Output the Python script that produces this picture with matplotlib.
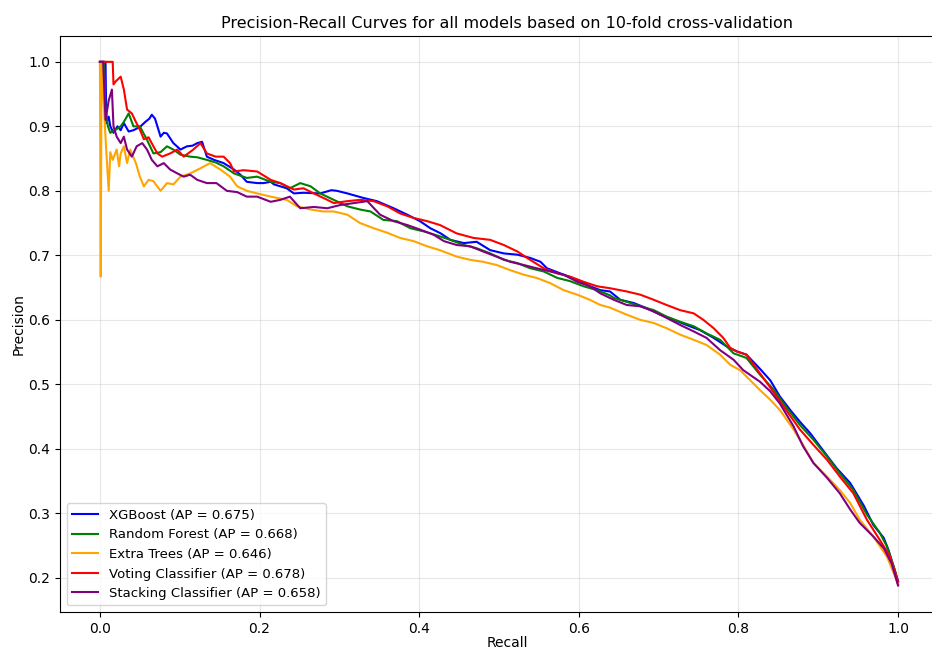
import numpy as np
import matplotlib
matplotlib.use('Agg')
import matplotlib.pyplot as plt

# curves: (recall, precision)
labels = ['XGBoost (AP = 0.675)', 'Random Forest (AP = 0.668)', 'Extra Trees (AP = 0.646)',
          'Voting Classifier (AP = 0.678)', 'Stacking Classifier (AP = 0.658)']
colors = ['blue', 'green', 'orange', 'red', 'purple']

xgb = [(0.0,1.0),(0.007,1.0),(0.008,0.905),(0.011,0.915),(0.013,0.90),(0.017,0.89),(0.022,0.90),
       (0.026,0.894),(0.030,0.905),(0.036,0.892),(0.042,0.894),(0.050,0.899),(0.057,0.907),(0.062,0.912),
       (0.065,0.918),(0.069,0.912),(0.076,0.884),(0.080,0.890),(0.084,0.889),(0.092,0.874),(0.101,0.864),
       (0.109,0.869),(0.116,0.870),(0.122,0.874),(0.128,0.876),(0.134,0.853),(0.143,0.848),(0.155,0.843),
       (0.168,0.833),(0.176,0.825),(0.184,0.814),(0.197,0.812),(0.205,0.812),(0.214,0.814),(0.218,0.810),
       (0.234,0.804),(0.243,0.796),(0.255,0.797),(0.276,0.796),(0.290,0.801),(0.297,0.800),(0.310,0.796),
       (0.330,0.789),(0.347,0.784),(0.368,0.773),(0.385,0.763),(0.401,0.753),(0.414,0.742),(0.427,0.734),
       (0.439,0.724),(0.456,0.719),(0.472,0.721),(0.489,0.708),(0.506,0.703),(0.523,0.701),(0.539,0.696),
       (0.552,0.690),(0.560,0.680),(0.581,0.670),(0.598,0.662),(0.614,0.652),(0.627,0.646),(0.639,0.644),
       (0.652,0.631),(0.669,0.626),(0.685,0.618),(0.702,0.608),(0.719,0.600),(0.735,0.592),(0.752,0.584),
       (0.769,0.572),(0.785,0.559),(0.798,0.551),(0.810,0.546),(0.827,0.524),(0.840,0.506),(0.852,0.481),
       (0.865,0.460),(0.877,0.442),(0.890,0.424),(0.907,0.396),(0.923,0.370),(0.940,0.347),(0.957,0.312),
       (0.969,0.282),(0.982,0.262),(0.988,0.243),(1.0,0.195)]

rf = [(0.0,1.0),(0.005,1.0),(0.007,0.926),(0.010,0.90),(0.013,0.89),(0.020,0.895),(0.026,0.90),
      (0.030,0.907),(0.036,0.92),(0.042,0.90),(0.050,0.90),(0.059,0.879),(0.067,0.858),(0.076,0.860),
      (0.084,0.869),(0.092,0.864),(0.101,0.856),(0.113,0.853),(0.122,0.852),(0.134,0.848),(0.145,0.844),
      (0.155,0.838),(0.168,0.827),(0.184,0.820),(0.197,0.822),(0.214,0.814),(0.226,0.812),(0.238,0.804),
      (0.251,0.812),(0.264,0.807),(0.276,0.796),(0.293,0.786),(0.310,0.776),(0.326,0.771),(0.339,0.768),
      (0.355,0.755),(0.372,0.753),(0.389,0.742),(0.406,0.737),(0.414,0.734),(0.427,0.729),(0.439,0.724),
      (0.456,0.716),(0.472,0.711),(0.489,0.703),(0.506,0.693),(0.523,0.688),(0.539,0.680),(0.556,0.675),
      (0.573,0.665),(0.589,0.660),(0.606,0.652),(0.623,0.646),(0.639,0.638),(0.644,0.634),(0.660,0.628),
      (0.677,0.621),(0.694,0.615),(0.710,0.605),(0.727,0.597),(0.744,0.590),(0.760,0.579),(0.777,0.569),
      (0.794,0.548),(0.810,0.541),(0.827,0.515),(0.844,0.492),(0.861,0.463),(0.877,0.437),(0.894,0.414),
      (0.911,0.388),(0.927,0.362),(0.944,0.336),(0.961,0.298),(0.977,0.270),(0.986,0.249),(0.996,0.212),
      (1.0,0.19)]

et = [(0.0,1.0),(0.001,0.667),(0.002,1.0),(0.005,0.93),(0.008,0.86),(0.011,0.80),(0.013,0.86),
      (0.016,0.848),(0.021,0.864),(0.024,0.838),(0.026,0.858),(0.030,0.869),(0.034,0.843),(0.038,0.864),
      (0.045,0.843),(0.050,0.822),(0.055,0.807),(0.061,0.817),(0.067,0.815),(0.076,0.800),(0.084,0.812),
      (0.092,0.810),(0.101,0.822),(0.113,0.827),(0.126,0.835),(0.138,0.843),(0.151,0.833),(0.163,0.822),
      (0.172,0.807),(0.184,0.800),(0.197,0.796),(0.214,0.791),(0.234,0.786),(0.247,0.776),(0.264,0.771),
      (0.280,0.768),(0.293,0.768),(0.310,0.763),(0.326,0.750),(0.343,0.742),(0.360,0.735),(0.376,0.727),
      (0.393,0.722),(0.410,0.714),(0.426,0.708),(0.447,0.698),(0.464,0.693),(0.480,0.690),(0.497,0.685),
      (0.514,0.677),(0.531,0.670),(0.547,0.665),(0.564,0.657),(0.581,0.646),(0.598,0.639),(0.614,0.631),
      (0.627,0.623),(0.639,0.619),(0.660,0.608),(0.677,0.600),(0.694,0.595),(0.710,0.587),(0.727,0.577),
      (0.744,0.569),(0.760,0.561),(0.777,0.546),(0.790,0.530),(0.802,0.522),(0.815,0.506),(0.827,0.491),
      (0.840,0.476),(0.852,0.460),(0.869,0.430),(0.881,0.406),(0.894,0.378),(0.911,0.357),(0.927,0.336),
      (0.940,0.316),(0.952,0.290),(0.969,0.264),(0.986,0.233),(0.998,0.197),(1.0,0.19)]

vote = [(0.0,1.0),(0.016,1.0),(0.017,0.965),(0.020,0.97),(0.026,0.977),(0.030,0.957),(0.034,0.926),
        (0.040,0.920),(0.045,0.907),(0.050,0.895),(0.055,0.880),(0.061,0.883),(0.067,0.869),(0.072,0.858),
        (0.078,0.853),(0.088,0.858),(0.097,0.864),(0.105,0.853),(0.117,0.864),(0.126,0.874),(0.134,0.858),
        (0.145,0.853),(0.155,0.853),(0.163,0.843),(0.168,0.830),(0.180,0.832),(0.197,0.830),(0.214,0.817),
        (0.226,0.812),(0.243,0.802),(0.255,0.804),(0.268,0.796),(0.285,0.786),(0.293,0.781),(0.310,0.784),
        (0.326,0.786),(0.343,0.784),(0.360,0.776),(0.376,0.765),(0.393,0.758),(0.410,0.753),(0.426,0.747),
        (0.447,0.734),(0.468,0.727),(0.489,0.724),(0.506,0.716),(0.523,0.706),(0.539,0.693),(0.556,0.680),
        (0.573,0.672),(0.589,0.667),(0.606,0.659),(0.623,0.652),(0.639,0.649),(0.660,0.644),(0.677,0.639),
        (0.694,0.631),(0.710,0.623),(0.727,0.615),(0.744,0.610),(0.756,0.600),(0.769,0.587),(0.781,0.572),
        (0.790,0.556),(0.798,0.551),(0.810,0.546),(0.827,0.517),(0.844,0.488),(0.861,0.458),(0.877,0.430),
        (0.894,0.406),(0.911,0.383),(0.927,0.357),(0.944,0.331),(0.961,0.290),(0.977,0.259),(0.990,0.233),
        (1.0,0.194)]

stack = [(0.0,1.0),(0.004,1.0),(0.007,0.91),(0.011,0.94),(0.015,0.957),(0.017,0.90),(0.021,0.884),
         (0.026,0.874),(0.030,0.884),(0.034,0.864),(0.040,0.853),(0.046,0.869),(0.053,0.874),(0.059,0.864),
         (0.065,0.848),(0.072,0.838),(0.080,0.843),(0.088,0.833),(0.097,0.827),(0.105,0.822),(0.113,0.825),
         (0.122,0.817),(0.134,0.812),(0.146,0.812),(0.159,0.800),(0.172,0.798),(0.184,0.791),(0.197,0.791),
         (0.214,0.783),(0.226,0.786),(0.238,0.791),(0.251,0.773),(0.268,0.775),(0.285,0.773),(0.301,0.778),
         (0.318,0.781),(0.335,0.784),(0.351,0.763),(0.368,0.753),(0.385,0.747),(0.401,0.740),(0.418,0.732),
         (0.431,0.722),(0.447,0.716),(0.464,0.714),(0.480,0.706),(0.497,0.698),(0.514,0.690),(0.531,0.685),
         (0.547,0.680),(0.564,0.675),(0.581,0.670),(0.598,0.659),(0.614,0.652),(0.627,0.641),(0.644,0.631),
         (0.660,0.623),(0.677,0.621),(0.694,0.613),(0.710,0.603),(0.727,0.592),(0.744,0.582),(0.760,0.572),
         (0.777,0.553),(0.794,0.538),(0.806,0.522),(0.827,0.504),(0.840,0.489),(0.852,0.470),(0.869,0.435),
         (0.881,0.404),(0.894,0.378),(0.911,0.355),(0.927,0.331),(0.940,0.306),(0.952,0.285),(0.969,0.264),
         (0.982,0.246),(0.992,0.222),(1.0,0.188)]

curves = [xgb, rf, et, vote, stack]

fig = plt.figure(figsize=(9.32, 6.53), dpi=100)
# the reference is cut at the right edge, so the axes run slightly past it
ax = fig.add_axes([0.0644, 0.0628, 0.96, 0.882])

for pts, lab, col in zip(curves, labels, colors):
    a = np.array(pts)
    ax.plot(a[:, 0], a[:, 1], color=col, lw=1.5, label=lab)

ax.set_xlim(-0.05, 1.05 + 0.018 * 1.1 / 0.942)
ax.set_ylim(0.147, 1.04)
ax.set_xticks([0.0, 0.2, 0.4, 0.6, 0.8, 1.0])
ax.set_xlabel('Recall', labelpad=0.5)
ax.set_ylabel('Precision', labelpad=2)
ax.set_title('Precision-Recall Curves for all models based on 10-fold cross-validation', fontsize=11.5)
ax.grid(True, alpha=0.3)
ax.spines['right'].set_visible(False)
ax.legend(loc='lower left', fontsize=9.5)

fig.savefig('out.png', dpi=100)
